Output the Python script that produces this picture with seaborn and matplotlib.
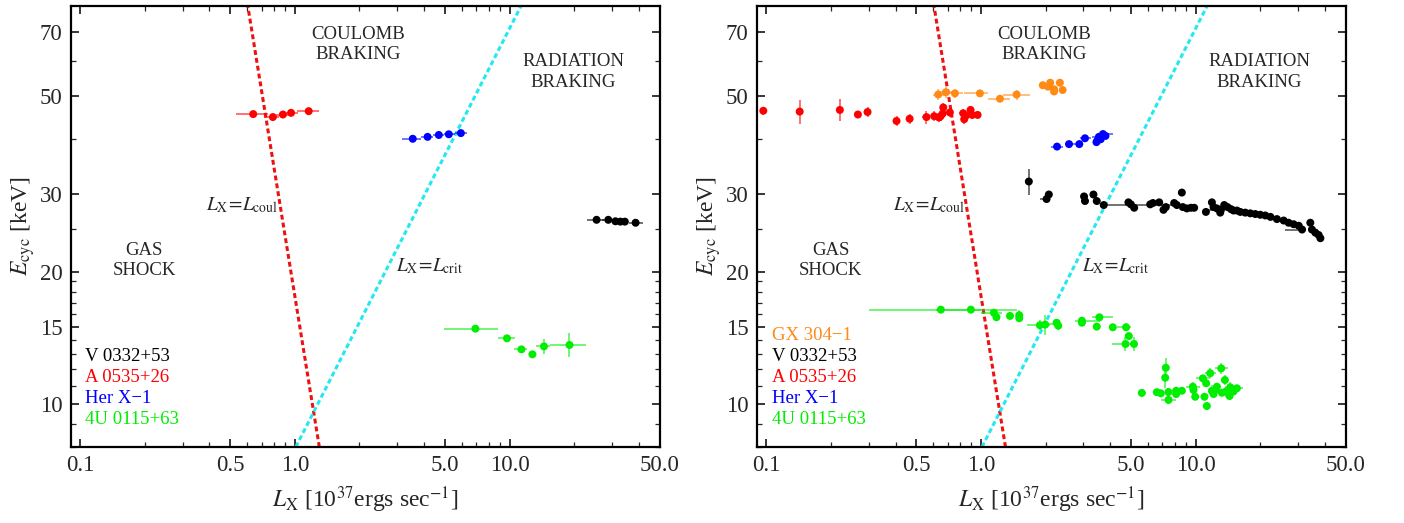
import numpy as np
import pandas as pd
import matplotlib
matplotlib.use("Agg")
import matplotlib.pyplot as plt
import seaborn as sns
from matplotlib.ticker import FixedLocator, FixedFormatter, NullFormatter

# theory lines, read where they cross the top / bottom of the frame
line_E = [8.0, 80.0]
coul_L = [1.30, 0.604]
crit_L = [1.01, 11.3]

# ---------------- left panel ----------------
l_a0535_L = [0.64, 0.79, 0.88, 0.96, 1.16]
l_a0535_E = [45.5, 44.8, 45.4, 45.8, 46.2]
l_a0535_dE = [0.3, 0.3, 0.3, 0.3, 0.3]
l_a0535_bar_E = [45.5, 44.8, 45.4, 45.8, 46.2]
l_a0535_bar_lo = [0.53, 0.72, 0.82, 0.91, 1.02]
l_a0535_bar_hi = [0.75, 0.84, 0.93, 1.03, 1.30]

l_her_L = [3.54, 4.15, 4.68, 5.21, 5.93]
l_her_E = [40.0, 40.4, 40.8, 40.95, 41.2]
l_her_dE = [0.2, 0.2, 0.2, 0.2, 0.2]
l_her_bar_E = [40.0, 40.4, 40.8, 40.95, 41.2]
l_her_bar_lo = [3.17, 3.85, 4.40, 4.95, 5.55]
l_her_bar_hi = [3.85, 4.40, 4.95, 5.55, 6.36]

l_v0332_L = [25.4, 28.8, 31.1, 32.8, 34.4, 38.6]
l_v0332_E = [26.2, 26.2, 26.0, 25.95, 25.95, 25.8]
l_v0332_dE = [0.1, 0.1, 0.1, 0.1, 0.1, 0.1]
l_v0332_bar_E = [26.2, 26.2, 26.0, 25.95, 25.8]
l_v0332_bar_lo = [22.9, 27.0, 30.0, 31.8, 36.0]
l_v0332_bar_hi = [27.5, 30.5, 32.0, 34.0, 41.6]

l_u0115_L = [6.93, 9.72, 11.35, 12.77, 14.45, 19.0]
l_u0115_E = [14.84, 14.11, 13.32, 12.98, 13.53, 13.63]
l_u0115_dE = [0.25, 0.25, 0.2, 0.2, 0.5, 0.85]
l_u0115_bar_E = [14.84, 14.11, 13.32, 12.98, 13.53, 13.63]
l_u0115_bar_lo = [4.94, 8.83, 10.5, 12.3, 13.3, 15.5]
l_u0115_bar_hi = [8.83, 10.6, 12.0, 13.25, 15.5, 22.6]

# ---------------- right panel ----------------
r_gx304_L = [0.632, 0.686, 0.756, 0.988, 1.225, 1.465, 1.94, 2.10, 2.19, 2.33, 2.40, 2.19, 2.05]
r_gx304_E = [50.4, 51.0, 50.7, 50.7, 49.3, 50.4, 52.9, 53.6, 51.8, 53.6, 51.6, 51.2, 52.5]
r_gx304_dE = [1.4, 1.5, 1.2, 1.0, 0.5, 1.3, 0.6, 0.6, 0.6, 0.6, 0.6, 0.6, 0.6]
r_gx304_bar_E = [50.4, 51.0, 50.7, 50.7, 49.3, 50.4, 52.9, 53.6]
r_gx304_bar_lo = [0.60, 0.64, 0.70, 0.835, 1.08, 1.27, 1.86, 2.02]
r_gx304_bar_hi = [0.67, 0.73, 0.82, 1.08, 1.36, 1.69, 2.02, 2.18]

r_a0535_L = [0.0968, 0.143, 0.220, 0.267, 0.296, 0.404, 0.465, 0.557, 0.605, 0.637,
             0.648, 0.667, 0.662, 0.716, 0.826, 0.835, 0.850, 0.894, 0.910, 0.964]
r_a0535_E = [46.3, 46.1, 46.5, 45.4, 46.0, 43.9, 44.4, 44.8, 45.0, 44.7,
             45.0, 47.1, 45.6, 45.9, 45.7, 44.3, 45.1, 46.5, 45.3, 45.3]
r_a0535_dE = [1.0, 3.0, 2.7, 0.7, 1.2, 1.1, 1.2, 1.5, 1.2, 1.0,
              1.0, 1.0, 1.0, 1.0, 1.0, 1.2, 1.0, 1.0, 1.0, 0.8]
r_a0535_bar_E = [44.8, 45.0, 45.7]
r_a0535_bar_lo = [0.53, 0.62, 0.79]
r_a0535_bar_hi = [0.58, 0.68, 0.87]

r_her_L = [2.26, 2.57, 2.87, 3.05, 3.49, 3.54, 3.70, 3.80, 3.61, 3.45]
r_her_E = [38.4, 38.9, 38.9, 40.1, 39.7, 40.4, 41.0, 40.6, 39.9, 39.3]
r_her_dE = [0.3, 0.3, 0.3, 0.3, 0.3, 0.3, 0.3, 0.3, 0.3, 0.3]
r_her_bar_E = [38.4, 38.9, 40.1, 40.4, 41.0]
r_her_bar_lo = [2.12, 2.45, 2.90, 3.30, 3.55]
r_her_bar_hi = [2.40, 3.00, 3.25, 3.80, 4.10]

r_v0332_L = [1.67, 2.02, 2.07, 3.02, 3.05, 3.34, 3.46, 3.73, 4.86, 4.99,
             5.17, 6.14, 6.32, 6.76, 7.08, 7.26, 7.94, 8.17, 8.62, 8.71,
             9.10, 9.50, 9.84, 11.16, 11.90, 12.11, 12.56, 13.01, 13.11, 13.58,
             14.07, 14.60, 15.01, 15.57, 16.13, 17.02, 17.96, 18.95, 19.99, 21.1,
             22.3, 23.9, 25.7, 27.1, 28.6, 30.2, 31.3, 34.2, 34.8, 36.1,
             37.4, 38.1]
r_v0332_E = [32.0, 29.2, 29.9, 29.6, 28.9, 29.9, 28.9, 28.3, 28.7, 28.4,
             27.9, 28.4, 28.6, 28.7, 27.6, 28.0, 28.6, 28.3, 30.2, 28.0,
             27.8, 27.9, 27.9, 27.3, 28.7, 28.0, 27.8, 27.2, 27.6, 28.3,
             28.0, 27.7, 27.5, 27.5, 27.3, 27.2, 27.1, 27.0, 26.9, 26.8,
             26.6, 26.3, 26.1, 25.8, 25.6, 25.4, 24.9, 25.8, 24.9, 24.5,
             24.2, 23.8]
r_v0332_dE = [2.2, 0.3, 0.3, 0.3, 0.3, 0.3, 0.3, 0.3, 0.3, 0.3,
              0.3, 0.3, 0.3, 0.3, 0.3, 0.3, 0.3, 0.3, 0.3, 0.3,
              0.3, 0.3, 0.3, 0.3, 0.3, 0.3, 0.3, 0.3, 0.3, 0.3,
              0.2, 0.2, 0.2, 0.2, 0.2, 0.2, 0.2, 0.2, 0.2, 0.2,
              0.2, 0.2, 0.2, 0.2, 0.2, 0.2, 0.2, 0.3, 0.2, 0.2,
              0.2, 0.2]
r_v0332_bar_E = [29.2, 28.3, 27.6, 24.9]
r_v0332_bar_lo = [1.88, 3.73, 11.1, 26.0]
r_v0332_bar_hi = [2.05, 8.0, 13.1, 31.3]

r_u0115_L = [0.650, 0.897, 1.148, 1.18, 1.364, 1.507, 1.507, 1.88, 1.99, 2.25,
             2.29, 2.95, 2.95, 3.56, 3.46, 4.11, 4.74, 4.88, 4.71, 5.16,
             5.61, 6.59, 6.88, 7.26, 7.21, 7.47, 7.47, 8.11, 8.11, 8.62,
             9.70, 9.77, 9.95, 10.80, 10.99, 11.19, 11.27, 11.69, 11.90, 12.11,
             12.33, 12.56, 13.15, 13.25, 13.68, 13.87, 14.38, 14.49, 15.56, 15.0]
r_u0115_E = [16.39, 16.39, 16.13, 15.75, 15.86, 15.92, 15.67, 15.11, 15.16, 15.31,
             15.07, 15.47, 15.31, 15.75, 15.0, 14.95, 14.95, 14.28, 13.70, 13.70,
             10.61, 10.65, 10.59, 12.10, 11.49, 10.66, 10.23, 10.73, 10.55, 10.73,
             10.96, 10.77, 10.40, 11.45, 10.40, 11.16, 9.91, 11.76, 10.73, 10.55,
             10.77, 10.96, 12.06, 10.62, 11.35, 10.70, 10.44, 10.93, 10.87, 10.69]
r_u0115_dE = [0.25, 0.2, 0.2, 0.3, 0.2, 0.4, 0.3, 0.4, 0.8, 0.3,
              0.3, 0.3, 0.2, 0.3, 0.2, 0.2, 0.3, 0.2, 0.5, 0.5,
              0.2, 0.2, 0.2, 0.6, 0.6, 0.2, 0.2, 0.2, 0.2, 0.2,
              0.3, 0.2, 0.2, 0.2, 0.2, 0.2, 0.2, 0.3, 0.3, 0.2,
              0.3, 0.2, 0.35, 0.2, 0.3, 0.3, 0.2, 0.3, 0.2, 0.2]
r_u0115_bar_E = [16.39, 16.39, 16.13, 15.11, 15.2, 15.47, 15.75, 14.95, 13.70,
                 10.61, 10.23, 10.96, 11.45, 11.76, 12.06, 10.87]
r_u0115_bar_lo = [0.30, 0.62, 1.00, 1.63, 1.85, 2.74, 3.30, 4.30, 4.08,
                  5.40, 6.90, 9.00, 10.0, 11.0, 12.3, 14.6]
r_u0115_bar_hi = [1.00, 1.47, 1.25, 2.10, 2.35, 3.60, 4.13, 5.00, 5.10,
                  5.90, 8.10, 10.5, 11.6, 12.5, 14.1, 16.6]

colors = {"GX 304−1": "#ff8a14", "V 0332+53": "black", "A 0535+26": "#ff0000",
          "Her X−1": "#0000ff", "4U 0115+63": "#00ee00"}

left_sets = [
    ("A 0535+26", l_a0535_L, l_a0535_E, l_a0535_dE, l_a0535_bar_E, l_a0535_bar_lo, l_a0535_bar_hi),
    ("Her X−1", l_her_L, l_her_E, l_her_dE, l_her_bar_E, l_her_bar_lo, l_her_bar_hi),
    ("V 0332+53", l_v0332_L, l_v0332_E, l_v0332_dE, l_v0332_bar_E, l_v0332_bar_lo, l_v0332_bar_hi),
    ("4U 0115+63", l_u0115_L, l_u0115_E, l_u0115_dE, l_u0115_bar_E, l_u0115_bar_lo, l_u0115_bar_hi),
]
right_sets = [
    ("GX 304−1", r_gx304_L, r_gx304_E, r_gx304_dE, r_gx304_bar_E, r_gx304_bar_lo, r_gx304_bar_hi),
    ("A 0535+26", r_a0535_L, r_a0535_E, r_a0535_dE, r_a0535_bar_E, r_a0535_bar_lo, r_a0535_bar_hi),
    ("Her X−1", r_her_L, r_her_E, r_her_dE, r_her_bar_E, r_her_bar_lo, r_her_bar_hi),
    ("V 0332+53", r_v0332_L, r_v0332_E, r_v0332_dE, r_v0332_bar_E, r_v0332_bar_lo, r_v0332_bar_hi),
    ("4U 0115+63", r_u0115_L, r_u0115_E, r_u0115_dE, r_u0115_bar_E, r_u0115_bar_lo, r_u0115_bar_hi),
]

left_legend = ["V 0332+53", "A 0535+26", "Her X−1", "4U 0115+63"]
right_legend = ["GX 304−1", "V 0332+53", "A 0535+26", "Her X−1", "4U 0115+63"]

sns.set_theme(style="ticks")
plt.rcParams["font.family"] = ["Liberation Serif", "DejaVu Serif"]
plt.rcParams["mathtext.fontset"] = "stix"


def draw_panel(ax, sets, legend_names):
    ax.set_xscale("log")
    ax.set_yscale("log")

    rows = []
    for name, L, E, dE, bE, blo, bhi in sets:
        col = colors[name]
        ax.errorbar(L, E, yerr=dE, fmt="none", ecolor=col, elinewidth=1.1,
                    alpha=0.7, zorder=2)
        ax.hlines(bE, blo, bhi, colors=col, lw=1.1, alpha=0.7, zorder=2)
        rows.append(pd.DataFrame({"L": L, "E": E, "src": name}))
    df = pd.concat(rows, ignore_index=True)
    sns.scatterplot(data=df, x="L", y="E", hue="src", palette=colors, s=33,
                    linewidth=0, legend=False, ax=ax, zorder=3)

    sns.lineplot(x=coul_L, y=line_E, color="#ee1111", lw=2.2,
                 linestyle=(0, (1.6, 1.0)), ax=ax, zorder=1, sort=False)
    sns.lineplot(x=crit_L, y=line_E, color="#22e8f2", lw=2.2,
                 linestyle=(0, (1.6, 1.0)), ax=ax, zorder=1, sort=False)

    ax.set_xlim(0.0905, 50)
    ax.set_ylim(8.0, 80.0)

    ax.xaxis.set_major_locator(FixedLocator([0.1, 0.5, 1, 5, 10, 50]))
    ax.xaxis.set_major_formatter(FixedFormatter(["0.1", "0.5", "1.0", "5.0", "10.0", "50.0"]))
    ax.xaxis.set_minor_locator(FixedLocator([0.2, 0.3, 0.4, 0.6, 0.7, 0.8, 0.9,
                                             2, 3, 4, 6, 7, 8, 9, 20, 30, 40]))
    ax.xaxis.set_minor_formatter(NullFormatter())
    ax.yaxis.set_major_locator(FixedLocator([10, 15, 20, 30, 50, 70]))
    ax.yaxis.set_major_formatter(FixedFormatter(["10", "15", "20", "30", "50", "70"]))
    ax.yaxis.set_minor_locator(FixedLocator([8, 9, 11, 12, 13, 14, 16, 17, 18, 19,
                                             25, 40, 60]))
    ax.yaxis.set_minor_formatter(NullFormatter())

    ax.tick_params(which="both", direction="in", top=True, right=True,
                   labelsize=16.5, pad=6)
    ax.tick_params(which="major", length=6, width=1.3)
    ax.tick_params(which="minor", length=3.5, width=0.9)
    for sp in ax.spines.values():
        sp.set_linewidth(1.6)
        sp.set_color("black")

    ax.set_xlabel(r"$L_{\rm X}$ [10$^{37}$ergs sec$^{-1}$]", fontsize=17, labelpad=6)
    ax.set_ylabel(r"$E_{\rm cyc}$ [keV]", fontsize=17, labelpad=2)

    txt = dict(ha="center", va="center", fontsize=13.5, linespacing=1.25)
    ax.text(1.97, 65.5, "COULOMB\nBRAKING", **txt)
    ax.text(19.8, 56.7, "RADIATION\nBRAKING", **txt)
    ax.text(0.199, 21.2, "GAS\nSHOCK", **txt)
    ax.text(0.57, 28.3, r"$L_{\rm X}\!=\!L_{\rm coul}$", ha="center", va="center", fontsize=14)
    ax.text(4.22, 20.6, r"$L_{\rm X}\!=\!L_{\rm crit}$", ha="center", va="center", fontsize=14)

    n = len(legend_names)
    for i, name in enumerate(legend_names):
        ax.text(0.025, 0.063 + 0.0475 * (n - 1 - i), name, color=colors[name],
                transform=ax.transAxes, ha="left", va="center", fontsize=13.5,
                family=["Liberation Serif", "DejaVu Serif"])


fig = plt.figure(figsize=(14.04, 5.23), dpi=100)
ax1 = fig.add_axes([0.0504, 0.1453, 0.4195, 0.8432])
ax2 = fig.add_axes([0.5392, 0.1453, 0.4193, 0.8432])

draw_panel(ax1, left_sets, left_legend)
draw_panel(ax2, right_sets, right_legend)

fig.savefig("out.png", dpi=100)
